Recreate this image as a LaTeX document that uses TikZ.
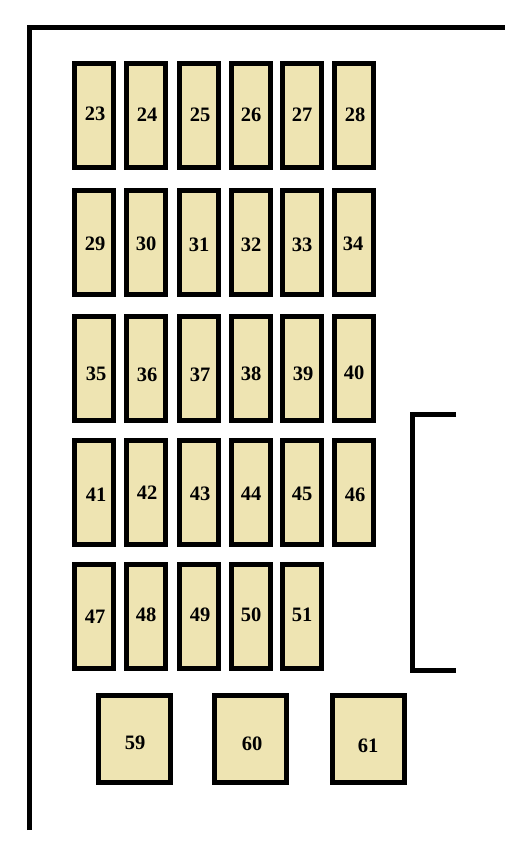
\documentclass[tikz,border=0pt]{standalone}
\usepackage{fontspec}
\setmainfont{Liberation Serif}
\definecolor{fusefill}{RGB}{238,228,178}
\begin{document}
\begin{tikzpicture}[x=1pt,y=-1pt,
  fusebox/.style={draw=black,line width=5pt,fill=fusefill,rectangle,inner sep=0pt,minimum width=39pt,minimum height=104pt},
  bigbox/.style={draw=black,line width=5pt,fill=fusefill,rectangle,inner sep=0pt,minimum width=72pt,minimum height=87pt},
  fuselabel/.style={inner sep=0pt,font=\fontsize{20.5}{20.5}\selectfont\bfseries},
  frameline/.style={line width=5pt,line cap=butt,line join=miter}]
\useasboundingbox (0,0) rectangle (522,847);
% frame
\coordinate (fa) at (29.5,830);
\coordinate (fb) at (29.5,27);
\coordinate (fc) at (505,27);
\draw[frameline] (fa) -- (fb) -- (fc);
% bracket
\coordinate (ba) at (456,414.5);
\coordinate (bb) at (412,414.5);
\coordinate (bc) at (412,670.5);
\coordinate (bd) at (456,670.5);
\draw[frameline] (ba) -- (bb) -- (bc) -- (bd);
% fuses: name / box x / box y / label x / label y
\foreach \n/\bx/\by/\lx/\ly in {
  23/94/115.5/95/114, 24/146/115.5/147/115, 25/198.5/115.5/200/115, 26/251/115.5/251/115, 27/302/115.5/302/115, 28/354/115.5/355/115,
  29/94/242/95/244, 30/146/242/146/244, 31/198.5/242/199/245, 32/251/242/251/245, 33/302/242/302/245, 34/354/242/353/244,
  35/94/368.5/96/374, 36/146/368.5/147/375, 37/198.5/368.5/200/375, 38/251/368.5/251/374, 39/302/368.5/303/374, 40/354/368.5/354/373,
  41/94/492/96/495, 42/146/492/147/493, 43/198.5/492/200/494, 44/251/492/251/494, 45/302/492/302/494, 46/354/492/355/495,
  47/94/616/95/617, 48/146/616/146/615, 49/198.5/616/200/615, 50/251/616/251/615, 51/302/616/302/615}{
  \node[fusebox] (f\n) at (\bx,\by) {};
  \node[fuselabel] (t\n) at (\lx,\ly) {\n};
}
\foreach \n/\bx/\by/\lx/\ly in {59/134.5/739/135/743, 60/250.5/739/252/744, 61/368.5/739/368/746}{
  \node[bigbox] (f\n) at (\bx,\by) {};
  \node[fuselabel] (t\n) at (\lx,\ly) {\n};
}
\end{tikzpicture}
\end{document}
